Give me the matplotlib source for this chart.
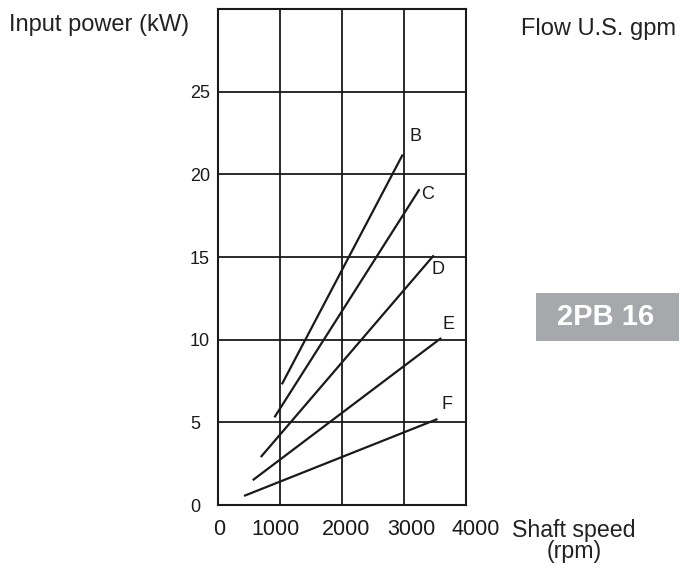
import matplotlib
matplotlib.use("Agg")
import matplotlib.pyplot as plt
from matplotlib.patches import Rectangle
from matplotlib.transforms import ScaledTranslation

plt.rcParams['font.family'] = ['Liberation Sans', 'DejaVu Sans']

# ---- data ----
curves = ['B', 'C', 'D', 'E', 'F']
speed_start = [1030, 910, 690, 560, 420]      # rpm
speed_end = [2980, 3250, 3480, 3600, 3540]    # rpm
power_start = [7.3, 5.3, 2.9, 1.5, 0.55]      # kW
power_end = [21.2, 19.1, 15.1, 10.1, 5.2]     # kW
x_ticks = [0, 1000, 2000, 3000, 4000]
y_ticks = [0, 5, 10, 15, 20, 25]
y_grid = [0, 5, 10, 15, 20, 25, 30]

W, H = 684, 568
fig = plt.figure(figsize=(W / 100, H / 100), dpi=100)
ax = fig.add_axes([218 / W, 1 - 505 / H, 248 / W, 496 / H])

ink = '#1a1a1a'
ax.set_xlim(0, 4000)
ax.set_ylim(0, 30)
for v in x_ticks[1:-1]:
    ax.axvline(v, color=ink, lw=1.3, zorder=1)
for v in y_grid[1:-1]:
    ax.axhline(v, color=ink, lw=1.3, zorder=1)
for s in ax.spines.values():
    s.set_color(ink)
    s.set_linewidth(1.5)

label_offsets = [(9.4, 12.7), (6.0, -3.6), (3.1, -10.3), (5.3, 9.6), (6.5, 10.6)]
for name, x0, x1, y0, y1, off in zip(curves, speed_start, speed_end,
                                     power_start, power_end, label_offsets):
    ax.plot([x0, x1], [y0, y1], color=ink, lw=1.6, solid_capstyle='butt', zorder=3)
    ax.annotate(name, (x1, y1), xytext=off, textcoords='offset points',
                ha='center', va='center', fontsize=13, color=ink)

ax.set_xticks(x_ticks)
ax.set_xticklabels([str(v) for v in x_ticks], fontsize=15.5, color=ink)
ax.set_yticks(y_ticks)
ax.set_yticklabels([str(v) for v in y_ticks], fontsize=13, color=ink)
ax.tick_params(axis='both', length=0)
ax.tick_params(axis='x', pad=10)
ax.tick_params(axis='y', pad=20.2)
for lab in ax.get_yticklabels():
    lab.set_horizontalalignment('left')
# small horizontal shifts of the x tick labels as drawn in the original (pixels)
x_label_shift_px = [1.5, -4.5, 4, 7, 10]
for lab, dx in zip(ax.get_xticklabels(), x_label_shift_px):
    lab.set_transform(lab.get_transform() +
                      ScaledTranslation(dx / 100, 0, fig.dpi_scale_trans))

# ---- surrounding texts ----
def fx(px):
    return px / W

def fy(py):
    return 1 - py / H

fig.text(fx(9), fy(31.5), 'Input power (kW)', fontsize=17, color='#222222',
         ha='left', va='baseline')
fig.text(fx(521), fy(35), 'Flow U.S. gpm', fontsize=17, color='#222222',
         ha='left', va='baseline')
fig.text(fx(512), fy(536.5), 'Shaft speed', fontsize=16.7, color='#222222',
         ha='left', va='baseline')
fig.text(fx(574), fy(558), '(rpm)', fontsize=16.7, color='#222222',
         ha='center', va='baseline')

fig.patches.append(Rectangle((fx(536), fy(341)), (679 - 536) / W, (341 - 293) / H,
                             transform=fig.transFigure, facecolor='#a6a8ab',
                             edgecolor='none', figure=fig))
fig.text(fx(605.5), fy(325), '2PB 16', fontsize=21, fontweight='bold',
         color='white', ha='center', va='baseline')

fig.savefig('out.png', dpi=100)
